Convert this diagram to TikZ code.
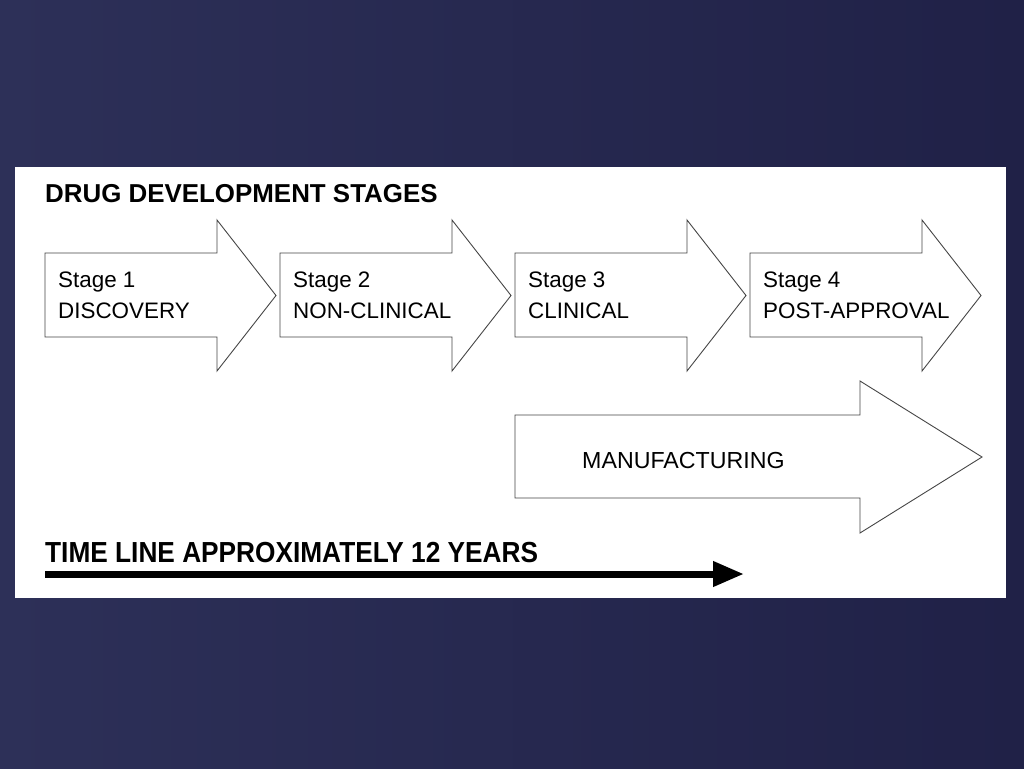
\documentclass[tikz,border=0pt]{standalone}
\usepackage{fontspec}
\setmainfont{Liberation Sans}
\usepackage{graphicx}
\usetikzlibrary{arrows.meta}
\definecolor{navyL}{RGB}{45,48,88}
\definecolor{navyR}{RGB}{32,33,71}
\definecolor{edgegray}{RGB}{70,70,70}
\begin{document}
\begin{tikzpicture}[x=1pt,y=-1pt,
  stagearrow/.style={draw=edgegray, line width=0.9pt, fill=white, line join=miter},
  stagetext/.style={anchor=base west, inner sep=0pt, font=\fontsize{22.4}{27}\selectfont},
  manutext/.style={anchor=base west, inner sep=0pt, font=\fontsize{23.2}{28}\selectfont},
  titletext/.style={anchor=base west, inner sep=0pt, font=\fontsize{25.9}{30}\selectfont\bfseries},
  timetext/.style={anchor=base west, inner sep=0pt, font=\fontsize{29}{34}\selectfont\bfseries},
  timearrow/.style={line width=7pt, -{Triangle[length=31pt,width=24pt]}},
]
\useasboundingbox (0,0) rectangle (1024,768);
\shade[left color=navyL, right color=navyR] (0,0) rectangle (1024,768);
\node[fill=white, draw=none, inner sep=0pt, minimum width=991pt, minimum height=431pt, anchor=north west] (panel) at (15,167) {};

\node[titletext] (title) at (45,202) {DRUG DEVELOPMENT STAGES};

\foreach \i/\a/\b in {0/Stage 1/DISCOVERY, 1/Stage 2/NON-CLINICAL, 2/Stage 3/CLINICAL, 3/Stage 4/POST-APPROVAL}{
  \pgfmathsetmacro{\xo}{45+235*\i}
  \draw[stagearrow] (\xo,253) -- (\xo+172,253) -- (\xo+172,220) -- (\xo+231,295.5)
        -- (\xo+172,371) -- (\xo+172,337) -- (\xo,337) -- cycle;
  \node[stagetext] (sa\i) at (\xo+13,287.3) {\a};
  \node[stagetext] (sb\i) at (\xo+13,318.3) {\b};
}

\draw[stagearrow] (515,415) -- (860,415) -- (860,381) -- (982,457) -- (860,533)
      -- (860,498) -- (515,498) -- cycle;
\node[manutext] (manu) at (582,468) {MANUFACTURING};

\node[timetext] (timeline) at (45,562) {\scalebox{0.905}[1]{TIME LINE APPROXIMATELY 12 YEARS}};
\coordinate (t0) at (45,574);
\coordinate (t1) at (744,574);
\draw[timearrow] (t0) -- (t1);
\end{tikzpicture}
\end{document}
